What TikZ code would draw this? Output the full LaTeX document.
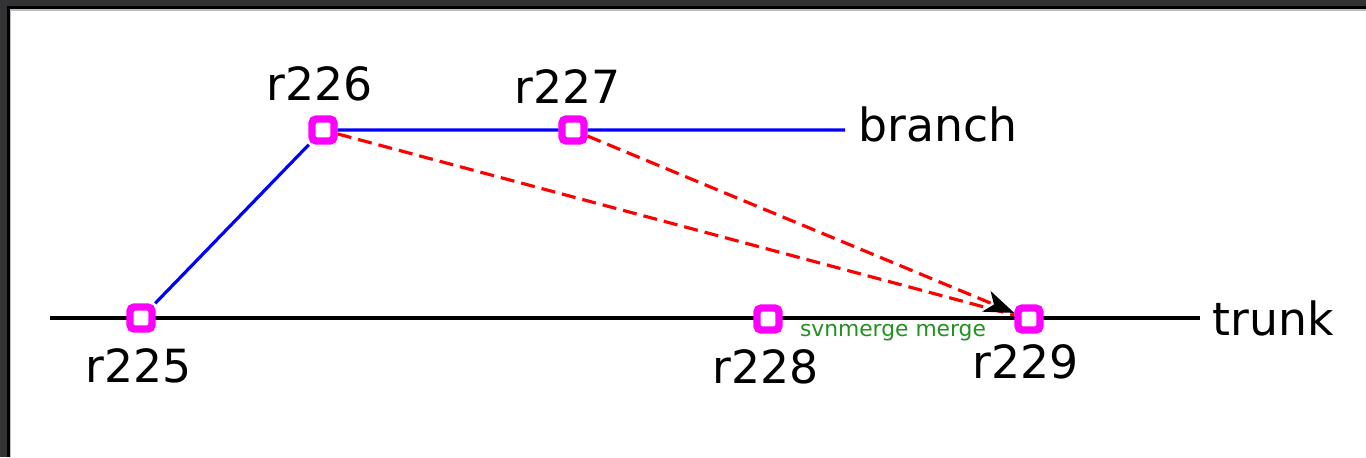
\documentclass[tikz,border=0pt]{standalone}
\usepackage{fontspec}
\setmainfont{DejaVu Sans}
\usetikzlibrary{arrows.meta}
\definecolor{framegray}{RGB}{51,51,54}
\definecolor{rev}{RGB}{255,0,255}
\definecolor{mergegreen}{RGB}{34,145,34}

\begin{document}
\begin{tikzpicture}[x=0.01cm, y=-0.01cm,
    revbox/.style={draw=rev, line width=2.1pt, fill=white, rounded corners=1.2pt,
        minimum size=0.22cm, inner sep=0pt},
    revlabel/.style={font=\fontsize{13}{13}\selectfont, inner sep=0pt},
    merged/.style={red, line width=0.9pt, dash pattern=on 4pt off 2pt}]
        % Frame
        \useasboundingbox (0,0) rectangle (1366,457);
        \fill[framegray] (0,0) rectangle (1366,457);
        \fill[black] (7,6) rectangle (1366,457);
        \fill[black!25] (10,9) rectangle (1366,457);
        \fill[white] (11,11) rectangle (1366,457);

        % Lines
        \coordinate (tstart) at (50,318);
        \coordinate (tend) at (1200,318);
        \coordinate (bend) at (845,130);
        \draw[line width=0.9pt] (tstart) -- (tend);

        % Revisions
        \node[revbox] (r225) at (141,318) {};
        \node[revbox] (r226) at (323,130) {};
        \node[revbox] (r227) at (573,130) {};
        \node[revbox] (r228) at (768,319) {};
        \node[revbox] (r229) at (1029,319) {};

        \draw[blue, line width=0.9pt] (r225) -- (r226) -- (r227) -- (bend);

        % Merge
        \draw[merged] (r226) -- (r229);
        \draw[merged, -{Stealth[length=0.3cm, width=0.22cm, inset=0.08cm, black]}] (r227) -- (r229);

        % Labels
        \node[revlabel] (l225) at (139,366) {r225};
        \node[revlabel] (l226) at (320,84) {r226};
        \node[revlabel] (l227) at (568,87) {r227};
        \node[revlabel] (l228) at (766,367) {r228};
        \node[revlabel] (l229) at (1026,362) {r229};
        \node[revlabel, anchor=west] (lbranch) at (858,124) {branch};
        \node[revlabel, anchor=west] (ltrunk) at (1212,318) {trunk};
        \node[mergegreen, font=\fontsize{6.2}{6.2}\selectfont, inner sep=0pt] (lmerge) at (893,333) {svnmerge merge};
    \end{tikzpicture}
\end{document}
